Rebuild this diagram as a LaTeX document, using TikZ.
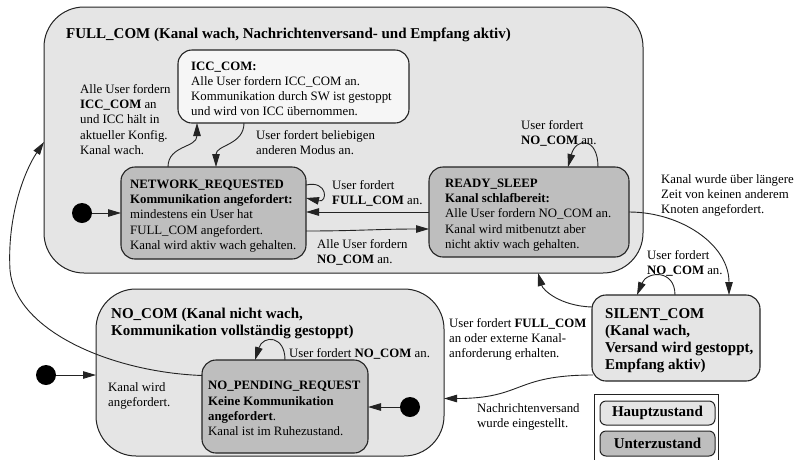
\documentclass[tikz,border=0pt]{standalone}
\usepackage{fontspec}
\setmainfont{Liberation Serif}
\usetikzlibrary{arrows.meta,calc}

\definecolor{mainfill}{RGB}{229,229,229}
\definecolor{subfill}{RGB}{190,190,190}
\definecolor{iccfill}{RGB}{246,246,246}
\definecolor{edge}{RGB}{35,35,35}

\begin{document}
\begin{tikzpicture}[x=1pt,y=-1pt,
  box/.style={draw=edge, inner sep=0pt, outer sep=0pt, anchor=north west},
  mainstate/.style={box, line width=1pt, fill=mainfill, rounded corners=40pt},
  substate/.style={box, line width=1.1pt, fill=subfill, rounded corners=14pt},
  lightstate/.style={box, line width=1.1pt, fill=iccfill, rounded corners=14pt},
  sidestate/.style={box, line width=1.1pt, fill=mainfill, rounded corners=14pt},
  keybox/.style={box, line width=1pt, rounded corners=6pt},
  txt/.style={inner sep=0pt, align=left, font=\fontsize{12.8}{15.2}\selectfont},
  ttl/.style={inner sep=0pt, align=left, font=\fontsize{15}{17}\selectfont\bfseries},
  dot/.style={circle, fill=black, minimum size=20pt, inner sep=0pt},
  conn/.style={draw=edge, line width=0.9pt, -{Triangle[length=13pt,width=7.5pt]}}
]
\clip (0,0) rectangle (796,459);
\fill[white] (0,0) rectangle (796,459);

% main states
\node[mainstate, minimum width=599pt, minimum height=266pt] (full) at (44,7) {};
\node[mainstate, minimum width=348pt, minimum height=167pt] (nocom) at (96,289) {};

% sub states
\node[lightstate, minimum width=231pt, minimum height=73pt] (icc) at (178,50) {};
\node[substate, minimum width=185pt, minimum height=92pt] (nr) at (121,167) {};
\node[substate, minimum width=200pt, minimum height=90pt] (rs) at (429,167) {};
\node[sidestate, minimum width=168pt, minimum height=86pt] (sc) at (592,295) {};
\node[substate, minimum width=166pt, minimum height=93pt] (npr) at (202,360) {};

% titles of the main states
\node[ttl, anchor=base west] (fulltitle) at (66,38)
  {FULL\_COM (Kanal wach, Nachrichtenversand- und Empfang aktiv)};
\node[ttl, anchor=north west] (nocomtitle) at (111,307.8)
  {NO\_COM (Kanal nicht wach,\\Kommunikation vollständig gestoppt)};

% state texts
\node[txt, anchor=west] (icctext) at ($(icc.west)+(13,2.5)$)
  {\textbf{ICC\_COM:}\\Alle User fordern ICC\_COM an.\\Kommunikation durch SW ist gestoppt\\und wird von ICC übernommen.};
\node[txt, anchor=west] (nrtext) at ($(nr.west)+(9,3)$)
  {\textbf{NETWORK\_REQUESTED}\\\textbf{Kommunikation angefordert:}\\mindestens ein User hat\\FULL\_COM angefordert.\\Kanal wird aktiv wach gehalten.};
\node[txt, anchor=west] (rstext) at ($(rs.west)+(16,3)$)
  {\textbf{READY\_SLEEP}\\\textbf{Kanal schlafbereit:}\\Alle User fordern NO\_COM an.\\Kanal wird mitbenutzt aber\\nicht aktiv wach gehalten.};
\node[ttl, anchor=west] (sctext) at ($(sc.west)+(13,3)$)
  {SILENT\_COM\\(Kanal wach,\\Versand wird gestoppt,\\Empfang aktiv)};
\node[txt, anchor=west] (nprtext) at ($(npr.west)+(6,2)$)
  {\textbf{NO\_PENDING\_REQUEST}\\\textbf{Keine Kommunikation}\\\textbf{angefordert}.\\Kanal ist im Ruhezustand.};

% initial states
\node[dot] (init1) at (82,213) {};
\node[dot] (init2) at (46,375) {};
\node[dot] (init3) at (410,407) {};

% transitions
\draw[conn] (init1) -- (init1 -| nr.west);
\draw[conn] (init2) -- (init2 -| nocom.west);
\draw[conn] (init3) -- (init3 -| npr.east);

\draw[conn] ($(nr.north west)+(47,0)$) .. controls +(0,-22) and +(0,25) .. ($(icc.south west)+(19,0)$);
\draw[conn] ($(icc.south west)+(66,0)$) .. controls +(0,22) and +(0,-22) .. ($(nr.north west)+(95,0)$);

\draw[conn] ($(nr.east)+(0,-28)$) .. controls +(22,-5) and +(22,5) .. ($(nr.east)+(0,-15)$);
\draw[conn] (rs.west) -- (rs.west -| nr.east);
\draw[conn] ($(nr.east)+(0,18)$) .. controls +(50,0) and +(-50,0) .. ($(rs.west)+(0,17)$);

\draw[conn] ($(rs.north west)+(169,0)$) .. controls +(0,-30) and +(8,-30) .. ($(rs.north west)+(139,0)$);
\draw[conn] (rs.east) .. controls +(51,0) and +(0,-51) .. ($(sc.north west)+(137,0)$);

\draw[conn] ($(sc.north west)+(83,0)$) .. controls +(0,-26) and +(10,-24) .. ($(sc.north west)+(45,0)$);
\draw[conn] ($(sc.west)+(0,-31)$) .. controls +(-32,-1) and +(5,17) .. ($(full.south west)+(494,0)$);
\draw[conn] ($(sc.south west)+(1,-6)$) .. controls +(-80,0) and +(80,0) .. ($(nocom.east)+(0,26)$);

\draw[conn] ($(npr.north west)+(83,0)$) .. controls +(0,-25) and +(8,-25) .. ($(npr.north west)+(53,0)$);
\coordinate (farleft) at (10,270);
\draw[conn] ($(npr.west)+(0,-31)$) .. controls (110,372) and (15,330) .. (farleft)
  .. controls (7,215) and (25,170) .. ($(full.west)+(0,2)$);

% transition labels
\node[txt, anchor=north west] (iccuplbl) at (80,84.3)
  {Alle User fordern\\\textbf{ICC\_COM} an\\und ICC hält in\\aktueller Konfig.\\Kanal wach.};
\node[txt, anchor=north west] (iccdownlbl) at (256,130.3)
  {User fordert beliebigen\\anderen Modus an.};
\node[txt, anchor=north west] (nrlooplbl) at (332,180.3)
  {User fordert\\\textbf{FULL\_COM} an.};
\node[txt, anchor=north west] (nrrslbl) at (317,239.3)
  {Alle User fordern\\\textbf{NO\_COM} an.};
\node[txt, anchor=north west] (rslooplbl) at (521,120.3)
  {User fordert\\\textbf{NO\_COM} an.};
\node[txt, anchor=north west] (rssclbl) at (661,174.3)
  {Kanal wurde über längere\\Zeit von keinen anderem\\Knoten angefordert.};
\node[txt, anchor=north west] (sclooplbl) at (647,250.3)
  {User fordert\\\textbf{NO\_COM} an.};
\node[txt, anchor=north west] (scfulllbl) at (449,318.3)
  {User fordert \textbf{FULL\_COM}\\an oder externe Kanal-\\anforderung erhalten.};
\node[txt, anchor=north west] (scnocomlbl) at (477,403.3)
  {Nachrichtenversand\\wurde eingestellt.};
\node[txt, anchor=north west] (nprlooplbl) at (289,348.3)
  {User fordert \textbf{NO\_COM} an.};
\node[txt, anchor=north west] (nprfulllbl) at (108,382.3)
  {Kanal wird\\angefordert.};

% key
\node[box, line width=0.9pt, fill=white, minimum width=124pt, minimum height=90pt] (key) at (594,394) {};
\node[keybox, fill=mainfill, minimum width=115pt, minimum height=24pt] (keymain) at (600,401) {};
\node[keybox, fill=subfill, minimum width=115pt, minimum height=25pt] (keysub) at (600,431) {};
\node[ttl] (keymaintext) at (keymain.center) {Hauptzustand};
\node[ttl] (keysubtext) at (keysub.center) {Unterzustand};
\end{tikzpicture}
\end{document}
